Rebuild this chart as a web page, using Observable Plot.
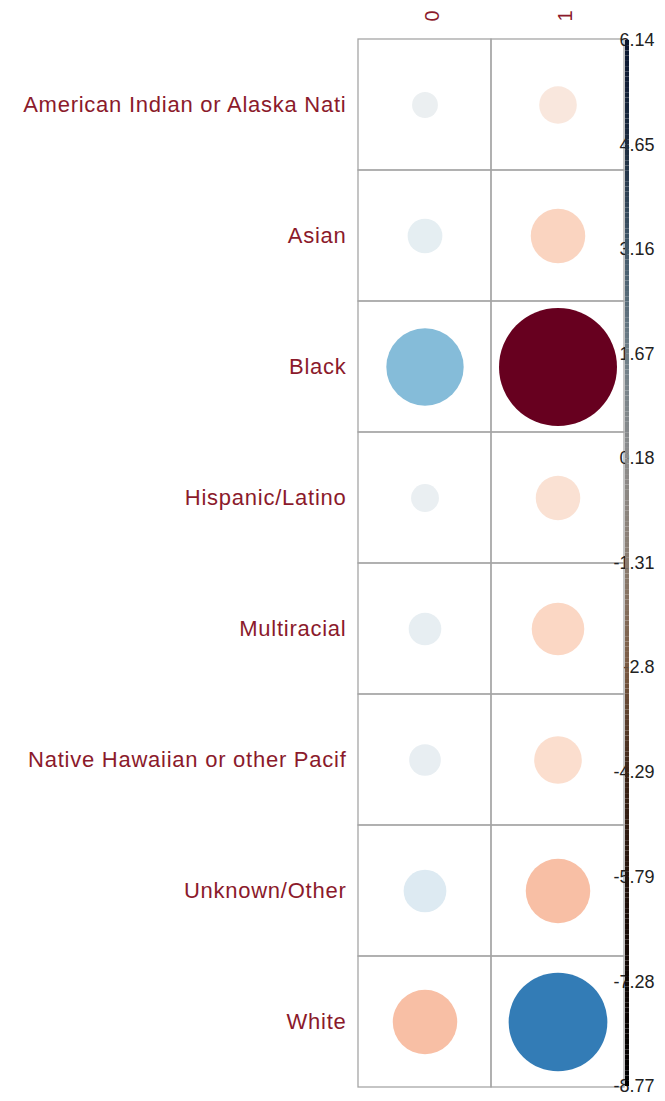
<!DOCTYPE html>
<html>
<head>
<meta charset="utf-8">
<script src="https://cdn.jsdelivr.net/npm/d3@7"></script>
<script src="https://cdn.jsdelivr.net/npm/@observablehq/plot@0.6"></script>
<style>
  html, body { margin: 0; padding: 0; background: white; }
  #wrap { position: relative; width: 665px; height: 1101px; }
  #wrap svg { position: absolute; left: 0; top: 0; }
  #wrap g[aria-label="y-axis tick label"] text { letter-spacing: 0.75px; }
</style>
</head>
<body>
<div id="wrap"></div>
<script>
// Categories (rows) and columns
const rows = [
  "American Indian or Alaska Nati",
  "Asian",
  "Black",
  "Hispanic/Latino",
  "Multiracial",
  "Native Hawaiian or other Pacif",
  "Unknown/Other",
  "White"
];
const cols = ["0", "1"];
const resid0 = [0.42, 0.76, 3.77, 0.49, 0.67, 0.63, 1.15, -2.62];
const resid1 = [-0.89, -1.87, -8.77, -1.25, -1.74, -1.43, -2.62, 6.14];
// Colour legend tick labels
const legendTicks = [6.14, 4.65, 3.16, 1.67, 0.18, -1.31, -2.8, -4.29, -5.79, -7.28, -8.77];
// Colour legend bar stops (as seen in the picture)
const barStops  = [-8.77, -6.5, -4.29, -2.8, -1.31, 0.18, 1.67, 3.16, 4.65, 6.14];
const barColors = ["#000000", "#1a0d08", "#3c2416", "#7a5a42", "#8a7c70", "#8c8c8c", "#6f7f88", "#41586a", "#1c2c40", "#0a1630"];

const data = rows.flatMap((r, i) => [
  {row: r, col: cols[0], v: resid0[i]},
  {row: r, col: cols[1], v: resid1[i]}
]);
const maxAbs = d3.max(data, d => Math.abs(d.v));
const lo = d3.min(legendTicks), hi = d3.max(legendTicks);

const font = "'Liberation Sans', Arial, sans-serif";
const labelColor = "#8b1a2b";

const main = Plot.plot({
  width: 665, height: 1101,
  marginLeft: 358, marginRight: 41, marginTop: 38, marginBottom: 13,
  style: {fontFamily: font, background: "white"},
  x: {domain: cols, padding: 0, axis: null},
  y: {domain: rows, padding: 0, axis: null},
  r: {type: "sqrt", domain: [0, maxAbs], range: [0, 59]},
  color: {type: "linear", scheme: "RdBu", domain: [-maxAbs, maxAbs]},
  marks: [
    Plot.cell(data, {x: "col", y: "row", fill: "none", stroke: "#a6a6a6", strokeWidth: 1.3}),
    Plot.dot(data, {x: "col", y: "row", r: d => Math.abs(d.v), fill: "v"}),
    Plot.axisY({tickSize: 0, tickPadding: 12, fontSize: 22, color: labelColor, label: null}),
    Plot.text(cols, {x: d => d, text: d => d, frameAnchor: "top", dy: -17, rotate: -90,
                     textAnchor: "start", fontSize: 20, fill: labelColor})
  ]
});

const segN = 200;
const step = (hi - lo) / segN;
const segs = d3.range(segN).map(i => ({a: lo + i * step, b: lo + (i + 1) * step, m: lo + (i + 0.5) * step}));

const legend = Plot.plot({
  width: 665, height: 1101,
  marginLeft: 625, marginRight: 36, marginTop: 40, marginBottom: 15,
  style: {fontFamily: font, background: "transparent", overflow: "visible"},
  y: {domain: [lo, hi], axis: null},
  color: {type: "linear", domain: barStops, range: barColors},
  marks: [
    Plot.text(legendTicks, {y: d => d, text: d => String(d), frameAnchor: "right", dx: 25,
                            textAnchor: "end", fontSize: 18, fill: "#222"}),
    Plot.rect(segs, {y1: "a", y2: "b", fill: "m"})
  ]
});

const wrap = document.getElementById("wrap");
wrap.appendChild(main);
wrap.appendChild(legend);
</script>
</body>
</html>
